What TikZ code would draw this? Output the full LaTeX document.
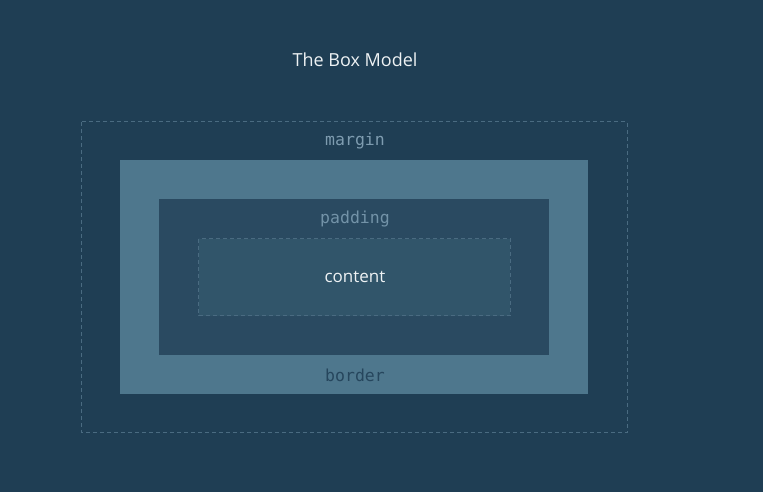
\documentclass[tikz,border=0pt]{standalone}
\usepackage{fontspec}
\setmainfont{Open Sans}
\newfontfamily\monofont{DejaVu Sans Mono}
\definecolor{bgc}{HTML}{1F3E54}
\definecolor{borderc}{HTML}{4E778D}
\definecolor{paddingc}{HTML}{2A4A61}
\definecolor{contentc}{HTML}{31556A}
\definecolor{dashc}{HTML}{4A6B81}
\definecolor{margintxt}{HTML}{7E9CB0}
\definecolor{paddingtxt}{HTML}{7393A8}
\definecolor{bordertxt}{HTML}{26465D}
\definecolor{lighttxt}{HTML}{EEF2F4}
\tikzset{
  dashedbox/.style={draw=dashc, line width=1pt, dash pattern=on 4pt off 3pt},
  monolabel/.style={font=\monofont\fontsize{16.5}{18}\selectfont, inner sep=0pt},
  sanslabel/.style={font=\fontsize{17}{20}\selectfont, text=lighttxt, inner sep=0pt},
}
\begin{document}
\begin{tikzpicture}[x=1pt,y=-1pt]
\fill[bgc] (0,0) rectangle (763,492);
\useasboundingbox (0,0) rectangle (763,492);
% margin area
\draw[dashedbox] (81.5,122) rectangle (627,432.5);
% border
\fill[borderc] (120,160) rectangle (588,394);
% padding
\fill[paddingc] (159,199) rectangle (549,355);
% content
\fill[contentc] (198.5,238.5) rectangle (510,315.5);
\draw[dashedbox] (198.5,238.5) rectangle (510,315.5);
% labels
\node[sanslabel, font=\fontsize{18}{22}\selectfont] (title) at (355,59.5) {The Box Model};
\node[monolabel, text=margintxt] (marginlbl) at (355,141.5) {margin};
\node[monolabel, text=paddingtxt] (paddinglbl) at (355,219.5) {padding};
\node[sanslabel] (contentlbl) at (355,276.5) {content};
\node[monolabel, text=bordertxt] (borderlbl) at (355,375) {border};
\end{tikzpicture}
\end{document}
